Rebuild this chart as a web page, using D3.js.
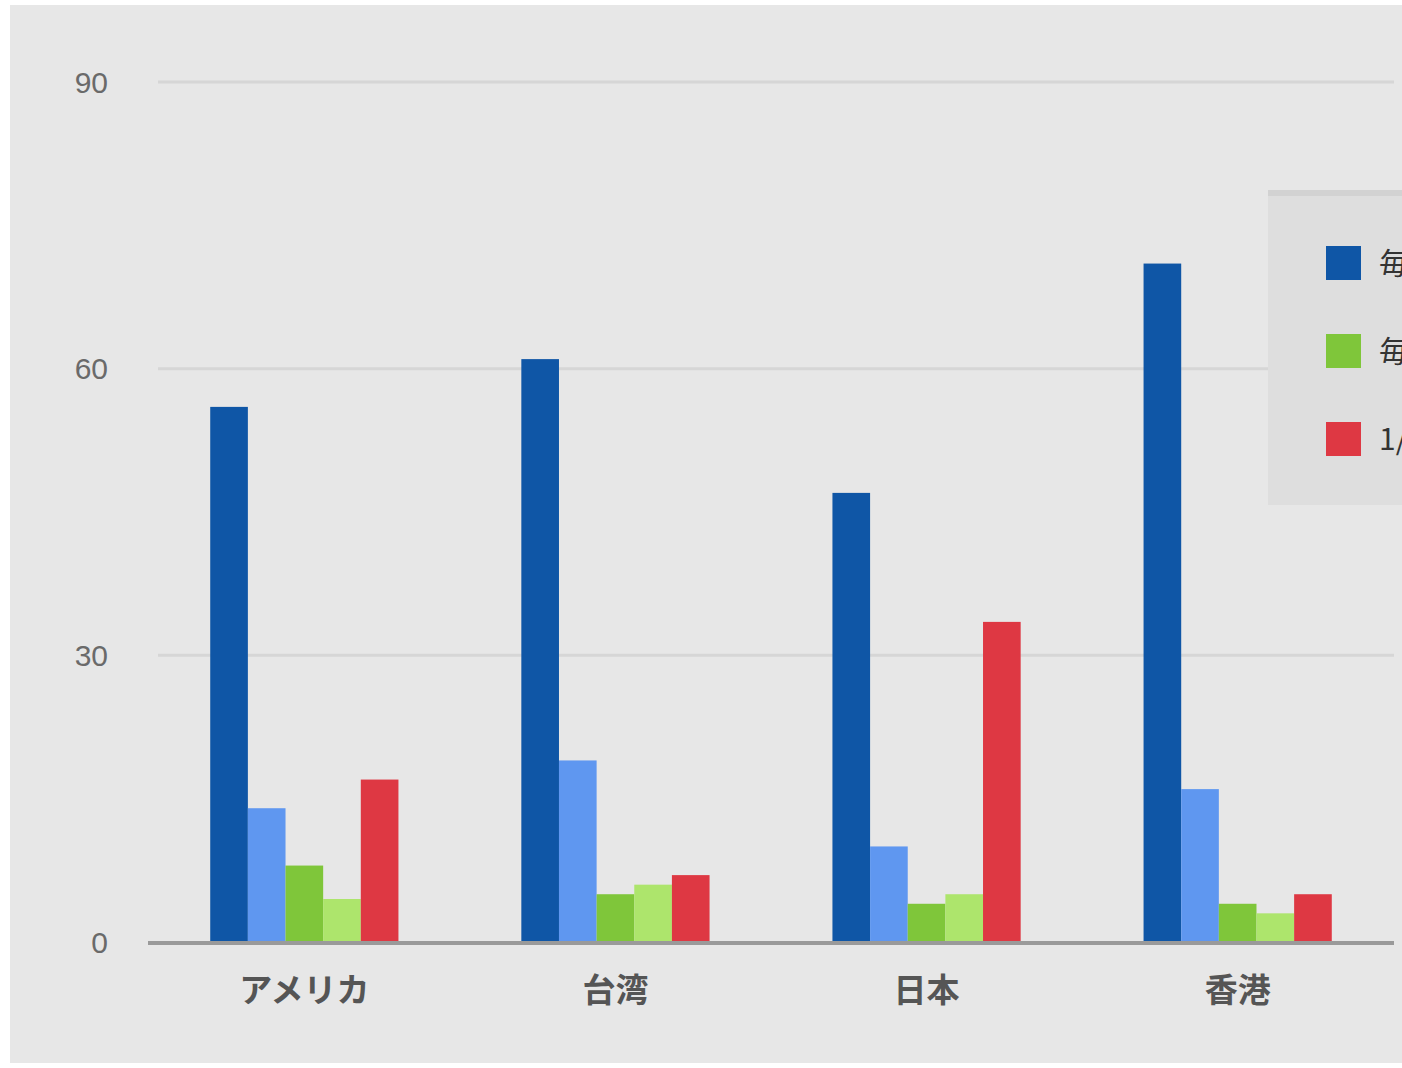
<!DOCTYPE html>
<html>
<head>
<meta charset="utf-8">
<script src="https://cdn.jsdelivr.net/npm/d3@7"></script>
<style>
  body { margin: 0; background: #fff; overflow: hidden; }
  svg { display: block; }
</style>
</head>
<body>
<svg id="chart" width="1402" height="1068"></svg>
<script>
// categories and series
const countries = ["アメリカ", "台湾", "日本", "香港"];
const seriesNames = ["毎日利用する", "毎日ではない", "毎週利用する", "毎週ではない", "1/月以下"];
const seriesColors = ["#0f56a6", "#5f97f0", "#7fc63a", "#ade56c", "#de3843"];
const values = [
  [56, 14, 8, 4.5, 17],   // アメリカ
  [61, 19, 5, 6, 7],      // 台湾
  [47, 10, 4, 5, 33.5],   // 日本
  [71, 16, 4, 3, 5]       // 香港
];
const yTicks = [0, 30, 60, 90];
const legendItems = [0, 2, 4]; // only these three show in the legend

const svg = d3.select("#chart");

// grey panel
svg.append("rect")
  .attr("x", 10).attr("y", 5)
  .attr("width", 1400).attr("height", 1058)
  .attr("fill", "#e7e7e7");

const y = d3.scaleLinear().domain([0, 90]).range([942, 82]);

const x0 = d3.scaleBand()
  .domain(countries)
  .range([148, 1394])
  .paddingInner(0.395)
  .paddingOuter(0.2);

const x1 = d3.scaleBand()
  .domain(d3.range(seriesNames.length))
  .range([0, x0.bandwidth()]);

// gridlines
svg.append("g")
  .selectAll("line")
  .data(yTicks.filter(t => t > 0))
  .join("line")
  .attr("x1", 158).attr("x2", 1394)
  .attr("y1", d => y(d)).attr("y2", d => y(d))
  .attr("stroke", "#d6d6d6")
  .attr("stroke-width", 3);

// y tick labels
svg.append("g")
  .selectAll("text")
  .data(yTicks)
  .join("text")
  .attr("x", 108)
  .attr("y", d => y(d))
  .attr("dy", "0.35em")
  .attr("text-anchor", "end")
  .attr("font-family", "Liberation Sans, Arial, sans-serif")
  .attr("font-size", 30)
  .attr("fill", "#6a6a6a")
  .text(d => d);

// bars
const group = svg.append("g")
  .selectAll("g")
  .data(countries)
  .join("g")
  .attr("transform", d => "translate(" + x0(d) + ",0)");

group.selectAll("rect")
  .data((d, i) => values[i].map((v, j) => ({ v, j })))
  .join("rect")
  .attr("x", d => x1(d.j))
  .attr("y", d => y(d.v))
  .attr("width", x1.bandwidth())
  .attr("height", d => y(0) - y(d.v))
  .attr("fill", d => seriesColors[d.j]);

// baseline
svg.append("line")
  .attr("x1", 148).attr("x2", 1394)
  .attr("y1", y(0) + 1).attr("y2", y(0) + 1)
  .attr("stroke", "#9a9a9a")
  .attr("stroke-width", 4);

// category labels
svg.append("g")
  .selectAll("text")
  .data(countries)
  .join("text")
  .attr("x", d => x0(d) + x0.bandwidth() / 2)
  .attr("y", 1002)
  .attr("text-anchor", "middle")
  .attr("font-family", "Noto Sans CJK JP, sans-serif")
  .attr("font-size", 33)
  .attr("font-weight", "bold")
  .attr("fill", "#555")
  .text(d => d);

// legend (cut off by the right edge)
const legend = svg.append("g").attr("transform", "translate(1268,190)");
legend.append("rect")
  .attr("width", 200).attr("height", 315)
  .attr("fill", "#dedede");
legend.append("rect")
  .attr("width", 200).attr("height", 6)
  .attr("fill", "#d2d2d2");

const item = legend.selectAll("g.item")
  .data(legendItems)
  .join("g")
  .attr("class", "item")
  .attr("transform", (d, i) => "translate(58," + (56 + i * 88) + ")");

item.append("rect")
  .attr("width", 35).attr("height", 34)
  .attr("fill", d => seriesColors[d]);

item.append("text")
  .attr("x", 53).attr("y", 17)
  .attr("dy", "0.35em")
  .attr("font-family", "Noto Sans CJK JP, sans-serif")
  .attr("font-size", 30)
  .attr("fill", "#333")
  .text(d => seriesNames[d]);
</script>
</body>
</html>
